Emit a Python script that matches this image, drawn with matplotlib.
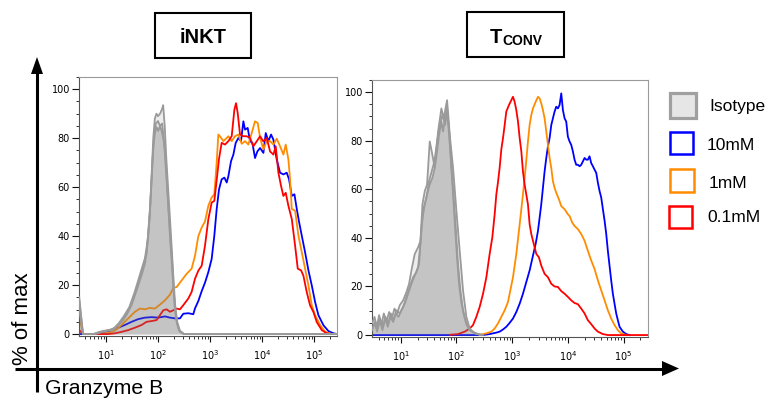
import numpy as np
import matplotlib
matplotlib.use("Agg")
import matplotlib.pyplot as plt
from matplotlib.patches import Rectangle, Polygon
from matplotlib.ticker import LogLocator, MultipleLocator, NullFormatter, FixedLocator

# ---------------- data (x values are log10 of Granzyme B intensity, y = % of max) -------------
panel_titles = ["iNKT", "T", "CONV"]
legend_labels = ["Isotype", "10mM", "1mM", "0.1mM"]
legend_colors = ["#a0a0a0", "#0000ff", "#ff8c00", "#ff0000"]
x_tick_decades = [1, 2, 3, 4, 5]
y_ticks = [0, 20, 40, 60, 80, 100]

# iNKT panel
inkt_red_x = [0.487,0.564,1.045,1.173,1.301,1.429,1.558,1.686,1.782,1.878,1.974,2.038,2.103,2.167,2.231,2.295,2.359,2.423,2.487,2.583,
              2.647,2.712,2.776,2.840,2.904,2.968,3.032,3.083,3.128,3.173,3.224,3.288,3.353,3.417,3.468,3.500,3.532,3.577,3.641,3.705,
              3.769,3.833,3.897,3.962,4.026,4.090,4.154,4.218,4.263,4.314,4.365,4.410,4.455,4.506,4.571,4.635,4.686,4.750,4.795,4.859,
              4.923,4.987,5.051,5.147,5.244,5.340,5.44]
inkt_red_y = [1.6,0,0,0.3,0.9,1.6,2.6,3.7,5.0,5.3,5.7,7.7,9.7,10.1,9.1,9.7,10.4,10.1,11.8,14.5,
              17.2,22.6,25.9,27.9,36.1,46.9,53.7,54.4,62.8,71.6,78.1,77.4,78.8,80.8,91.6,94.3,90.3,81.5,80.8,80.8,
              80.1,76.7,78.7,80.8,78.7,80.1,74.6,73.3,76.7,65.9,60.5,56.4,57.7,52.4,47.0,36.1,26.7,26.0,23.8,17.1,
              11.7,9.0,4.9,1.6,0.3,0,0]

inkt_orange_x = [0.487,0.564,0.853,1.045,1.173,1.301,1.429,1.558,1.654,1.750,1.846,1.942,2.038,2.135,2.231,2.295,2.359,2.455,2.551,2.647,
                 2.712,2.776,2.840,2.904,2.968,3.032,3.083,3.128,3.160,3.192,3.256,3.321,3.353,3.417,3.481,3.545,3.609,3.673,3.737,3.801,
                 3.865,3.917,3.962,4.026,4.090,4.154,4.218,4.282,4.346,4.410,4.455,4.506,4.538,4.571,4.635,4.699,4.763,4.827,4.891,4.955,
                 5.019,5.115,5.212,5.340,5.44]
inkt_orange_y = [7.0,0,0,0.5,1.4,3.7,6.4,9.1,10.4,10.1,10.7,10.4,12.0,13.8,16.1,18.8,19.2,21.9,24.6,26.7,
                 32.0,40.0,43.5,46.0,52.4,55.8,57.1,70.0,81.5,80.8,78.8,80.1,80.8,78.8,80.8,81.5,77.7,78.8,77.4,82.1,
                 86.9,86.2,80.1,75.4,78.8,78.8,77.4,79.8,76.7,73.3,77.4,71.3,63.3,51.1,50.4,40.2,33.4,26.7,19.9,11.8,
                 7.7,3.7,0.9,0,0]

inkt_blue_x = [0.487,0.788,0.885,1.013,1.141,1.237,1.365,1.494,1.622,1.750,1.878,2.006,2.135,2.231,2.327,2.423,2.487,2.583,2.679,2.712,
               2.776,2.840,2.904,2.968,3.032,3.083,3.128,3.173,3.224,3.276,3.321,3.353,3.404,3.449,3.494,3.545,3.596,3.641,3.673,3.724,
               3.769,3.814,3.865,3.910,3.962,4.026,4.071,4.122,4.173,4.218,4.282,4.346,4.410,4.474,4.519,4.571,4.622,4.667,4.712,4.763,
               4.827,4.891,4.955,5.019,5.083,5.179,5.276,5.372,5.44]
inkt_blue_y = [0,0,0.8,1.0,1.4,2.6,3.7,5.0,6.1,6.7,6.9,6.7,7.2,6.7,6.4,6.4,8.3,8.5,8.1,10.5,
               13.5,17.5,21.0,25.3,30.7,40.2,51.0,59.1,63.2,63.9,61.9,64.5,70.6,73.3,78.1,80.1,78.8,86.9,83.5,84.2,
               78.8,78.1,71.9,74.6,76.0,74.0,82.1,78.8,81.5,79.4,71.3,65.9,65.2,65.9,63.2,56.4,57.1,51.1,45.7,40.2,
               33.4,26.0,19.9,13.1,7.7,3.6,1.2,0.3,0]

inkt_iso_main_x = [0.487,0.56,0.788,0.917,1.045,1.141,1.237,1.333,1.429,1.494,1.558,1.622,1.686,1.750,1.782,1.814,1.846,1.878,1.910,1.942,
                   1.974,2.006,2.038,2.071,2.103,2.135,2.167,2.199,2.231,2.263,2.295,2.327,2.359,2.404,2.45,2.5,5.44]
inkt_iso_main_y = [14,0,0,0.9,1.4,1.6,3.6,5.7,9.1,11.8,15.8,19.9,24.0,28.7,33.4,40.1,49.6,63.1,76.6,82,
                   84.5,83,85,83,80,75,65,52,40,30,19,10,5,1.5,0.5,0,0]
inkt_iso_a_x = [0.487,0.56,0.75,0.9,1.05,1.15,1.25,1.35,1.45,1.55,1.65,1.75,1.80,1.85,1.88,1.91,1.94,1.97,2.00,2.04,
                2.08,2.10,2.13,2.16,2.20,2.24,2.27,2.30,2.33,2.37,2.42,2.5,5.44]
inkt_iso_a_y = [15,0,0,1.0,1.6,2.2,4.5,7.5,11,17,24,31,38,52,66,80,88,90,89,90,
                92,93.5,85,72,58,44,33,22,12,5,1.5,0,0]
inkt_iso_b_x = [0.487,0.56,0.8,0.95,1.1,1.2,1.3,1.4,1.5,1.6,1.7,1.78,1.83,1.87,1.9,1.93,1.96,2.0,2.04,2.08,
                2.12,2.15,2.19,2.23,2.27,2.30,2.33,2.37,2.42,2.5,5.44]
inkt_iso_b_y = [10,0,0,1.2,1.8,3,5,8,13,19,26,33,45,60,72,82,86,87,85,86,
                78,68,55,42,30,19,10,4,1,0,0]

# Tconv panel
tconv_red_x = [1.879,2.028,2.148,2.238,2.297,2.357,2.417,2.477,2.537,2.596,2.644,2.686,2.716,2.746,2.776,2.806,2.836,2.866,2.895,
               2.943,2.985,3.015,3.045,3.075,3.105,3.135,3.165,3.194,3.224,3.254,3.284,3.314,3.344,3.374,3.404,3.434,3.481,3.523,3.583,
               3.643,3.703,3.762,3.822,3.882,3.942,4.002,4.061,4.121,4.181,4.241,4.301,4.360,4.420,4.480,4.540,4.630,4.719,5.44]
tconv_red_y = [0.1,0.4,1.4,2.7,4.1,7.5,11.6,17.0,23.8,33.4,40.2,49.7,57.9,63.0,69.0,76.5,81.1,86.5,92.0,
               94.7,96.7,98.1,96.0,92.6,87.9,81.1,75.6,67.4,62.0,57.9,53.8,45.6,41.6,38.8,36.1,33.4,32.0,28.6,25.2,
               23.8,21.1,20.0,19.8,18.1,17.0,15.7,14.3,13.2,12.7,10.9,8.9,6.1,4.5,2.7,1.4,0.4,0,0]

tconv_orange_x = [2.417,2.537,2.626,2.686,2.746,2.806,2.866,2.925,2.955,3.015,3.075,3.135,3.194,3.242,3.284,3.314,3.344,3.374,3.422,3.464,
                  3.494,3.523,3.553,3.583,3.613,3.643,3.673,3.703,3.732,3.762,3.792,3.840,3.882,3.942,4.002,4.031,4.079,4.121,4.181,4.241,
                  4.301,4.360,4.420,4.480,4.540,4.600,4.660,4.719,4.779,4.839,4.899,4.959,5.049]
tconv_orange_y = [0.1,0.7,1.4,2.7,4.8,7.5,10.2,13.6,17.0,23.8,33.4,45.6,57.9,68.8,79.7,86.5,90.6,93.3,96.0,98.1,
                  97.4,95.4,92.6,89.2,83.8,78.3,72.9,68.8,63.4,60.6,58.6,55.9,53.1,51.8,49.7,49.0,46.3,44.9,43.6,41.6,
                  38.8,34.7,30.7,27.2,22.5,18.4,14.3,10.2,6.8,4.1,2.0,0.7,0]

tconv_blue_x = [0.486,2.477,2.596,2.716,2.776,2.836,2.895,2.955,3.015,3.075,3.135,3.194,3.254,3.314,3.374,3.422,3.464,3.494,3.523,3.553,
                3.583,3.613,3.643,3.673,3.703,3.732,3.762,3.792,3.822,3.852,3.882,3.912,3.942,3.971,4.001,4.031,4.061,4.091,4.121,4.151,
                4.181,4.211,4.241,4.271,4.301,4.331,4.360,4.390,4.420,4.450,4.480,4.510,4.540,4.570,4.600,4.630,4.660,4.690,4.719,4.749,
                4.779,4.809,4.839,4.869,4.899,4.929,4.989,5.049,5.109]
tconv_blue_y = [0,0,0.4,1.0,1.4,2.3,3.4,5.0,6.8,9.5,12.9,17.0,21.8,26.6,32.7,37.5,42.9,48.4,53.8,60.6,
                67.4,72.9,77.7,81.1,86.5,89.2,92.0,94.0,93.3,94.7,99.5,92.6,89.2,87.9,81.7,79.7,78.3,75.6,72.2,70.1,
                70.1,69.5,70.1,71.5,72.9,72.2,72.2,73.6,70.8,69.5,68.1,66.8,62.7,59.3,56.6,51.8,47.1,41.6,34.7,28.6,
                22.5,17.0,12.9,8.9,6.1,3.4,1.4,0.4,0]

tconv_iso_main_x = [0.486,0.534,0.575,0.623,0.671,0.719,0.767,0.815,0.862,0.910,0.958,1.012,1.072,1.132,1.191,1.251,1.311,1.353,1.389,1.431,
                    1.472,1.520,1.568,1.610,1.652,1.688,1.729,1.759,1.795,1.831,1.867,1.903,1.939,1.975,2.010,2.046,2.088,2.130,2.178,2.238,
                    2.327,2.447]
tconv_iso_main_y = [2.7,4.8,1.4,5.9,2.0,6.8,3.4,7.5,5.4,8.9,7.5,10.2,12.9,17.0,21.1,24.5,27.9,37.5,48.4,53.8,
                    57.9,62.0,64.7,68.8,75.6,82.4,87.9,83.8,89.2,93.3,82.4,71.5,57.9,44.3,32.0,21.1,13.5,8.5,4.5,2.0,
                    0.7,0]
tconv_iso_a_x = [0.486,0.528,0.570,0.611,0.653,0.695,0.743,0.791,0.839,0.886,0.934,0.982,1.042,1.102,1.149,1.191,1.251,1.311,1.353,1.389,
                 1.431,1.472,1.520,1.556,1.610,1.670,1.729,1.771,1.831,1.867,1.909,1.951,1.987,2.028,2.070,2.118,2.178,2.238,2.357,2.477]
tconv_iso_a_y = [4.8,7.5,3.4,8.2,4.1,8.9,5.4,9.5,6.8,10.9,8.9,12.3,14.3,17.7,21.1,26.6,33.4,36.1,38.8,53.8,
                 59.3,62.0,79.7,75.6,68.8,83.8,93.3,89.2,96.7,86.5,68.8,56.5,44.3,29.3,18.4,10.2,4.8,2.0,0.7,0]
tconv_iso_b_x = [0.486,0.534,0.581,0.629,0.677,0.725,0.773,0.821,0.868,0.922,0.982,1.042,1.102,1.161,1.221,1.281,1.329,1.371,1.413,1.460,
                 1.508,1.556,1.604,1.652,1.700,1.747,1.795,1.831,1.879,1.939,1.999,2.058,2.118,2.178,2.238,2.327,2.447]
tconv_iso_b_y = [2.0,5.4,2.7,6.8,3.4,7.5,4.8,8.9,6.1,10.2,8.9,11.6,15.7,19.8,23.8,25.9,29.3,44.3,52.5,56.5,
                 63.4,67.4,71.5,79.7,86.5,90.6,86.5,92.0,82.4,68.8,51.1,34.7,18.4,7.5,2.7,0.7,0]

# ---------------- figure ----------------
W, H = 769, 398
fig = plt.figure(figsize=(W / 100, H / 100), dpi=100)
SANS = ["Liberation Sans", "DejaVu Sans"]

# overlay in pixel coordinates for decorations
ov = fig.add_axes([0, 0, 1, 1])
ov.set_xlim(0, W)
ov.set_ylim(H, 0)
ov.axis("off")


def rect_px(x0, y0, x1, y1):
    return [x0 / W, 1 - y1 / H, (x1 - x0) / W, (y1 - y0) / H]


def draw_panel(rect, red, orange, blue, iso_main, iso_outlines):
    ax = fig.add_axes(rect)
    ax.set_xscale("log")
    # light fills of extra isotype overlays
    for xs, ys in iso_outlines:
        ax.fill_between(10 ** np.array(xs), 0, ys, color="#dcdcdc", alpha=0.5, lw=0, zorder=1)
    for (xs, ys), c in zip([blue, orange, red], ["#0000ff", "#ff8c00", "#ff0000"]):
        ax.plot(10 ** np.array(xs), ys, color=c, lw=1.3, zorder=2)
    ax.fill_between(10 ** np.array(iso_main[0]), 0, iso_main[1], color="#7a7a7a", alpha=0.3, lw=0, zorder=3)
    for xs, ys in iso_outlines + [iso_main]:
        ax.plot(10 ** np.array(xs), ys, color="#9a9a9a", lw=1.3, zorder=4)

    ax.set_xlim(10 ** 0.483, 10 ** 5.44)
    ax.set_ylim(-0.8, 105)
    ax.xaxis.set_major_locator(FixedLocator([10.0 ** d for d in x_tick_decades]))
    ax.xaxis.set_minor_locator(LogLocator(base=10, subs=np.arange(2, 10), numticks=20))
    ax.xaxis.set_minor_formatter(NullFormatter())
    ax.yaxis.set_major_locator(FixedLocator(y_ticks))
    ax.yaxis.set_minor_locator(MultipleLocator(5))
    ax.tick_params(axis="both", which="major", labelsize=7, width=0.8, color="#111111")
    ax.tick_params(axis="x", which="major", length=4, pad=4.5)
    ax.tick_params(axis="y", which="major", length=5, pad=1.5)
    ax.tick_params(axis="both", which="minor", length=2.2, width=0.6, color="#111111")
    for s in ["left", "bottom"]:
        ax.spines[s].set_color("#555555")
        ax.spines[s].set_linewidth(0.8)
    for s in ["top", "right"]:
        ax.spines[s].set_color("#9a9a9a")
        ax.spines[s].set_linewidth(0.8)
    return ax


draw_panel(rect_px(79, 77, 337, 336),
           (inkt_red_x, inkt_red_y), (inkt_orange_x, inkt_orange_y), (inkt_blue_x, inkt_blue_y),
           (inkt_iso_main_x, inkt_iso_main_y),
           [(inkt_iso_a_x, inkt_iso_a_y), (inkt_iso_b_x, inkt_iso_b_y)])
draw_panel(rect_px(372, 80, 648, 337),
           (tconv_red_x, tconv_red_y), (tconv_orange_x, tconv_orange_y), (tconv_blue_x, tconv_blue_y),
           (tconv_iso_main_x, tconv_iso_main_y),
           [(tconv_iso_a_x, tconv_iso_a_y), (tconv_iso_b_x, tconv_iso_b_y)])

# ---- title boxes ----
ov.add_patch(Rectangle((155, 13), 96, 45, fill=False, ec="black", lw=1.5))
ov.text(203, 43, panel_titles[0], ha="center", va="baseline", fontsize=14.5,
        fontweight="bold", family=SANS)
ov.add_patch(Rectangle((467, 12), 97, 45, fill=False, ec="black", lw=1.5))
ov.text(502.5, 43, panel_titles[1], ha="right", va="baseline", fontsize=14.5,
        fontweight="bold", family=SANS)
ov.text(502.5, 45, panel_titles[2], ha="left", va="baseline", fontsize=10,
        fontweight="bold", family=SANS)

# ---- big axes arrows ----
ov.plot([37, 37], [392, 72], color="black", lw=2.2, solid_capstyle="butt")
ov.add_patch(Polygon([(37, 57), (31, 74), (43, 74)], closed=True, color="black", lw=0))
ov.plot([15, 664], [368.5, 368.5], color="black", lw=2.2, solid_capstyle="butt")
ov.add_patch(Polygon([(679, 368.5), (662, 361), (662, 376)], closed=True, color="black", lw=0))
ov.text(22.5, 319, "% of max", rotation=90, ha="center", va="center", fontsize=16, family=SANS)
ov.text(45, 394, "Granzyme B", ha="left", va="baseline", fontsize=15.3, family=SANS)

# ---- legend ----
leg_boxes = [(670, 93, 26, 25), (669.5, 132, 23.5, 22), (670, 168.5, 24, 23), (669, 206, 23, 22)]
leg_text_pos = [(709, 106.7), (707, 145.7), (709, 184), (707, 217.3)]
for i, (lab, col) in enumerate(zip(legend_labels, legend_colors)):
    x0, y0, w, h = leg_boxes[i]
    if i == 0:
        ov.add_patch(Rectangle((x0, y0), w, h, fc="#e6e6e6", ec=col, lw=2.3))
    else:
        ov.add_patch(Rectangle((x0, y0), w, h, fc="white", ec=col, lw=1.8))
    tx, ty = leg_text_pos[i]
    ov.text(tx, ty, lab, ha="left", va="center", fontsize=12.5, family=SANS)

fig.savefig("out.png", dpi=100)
